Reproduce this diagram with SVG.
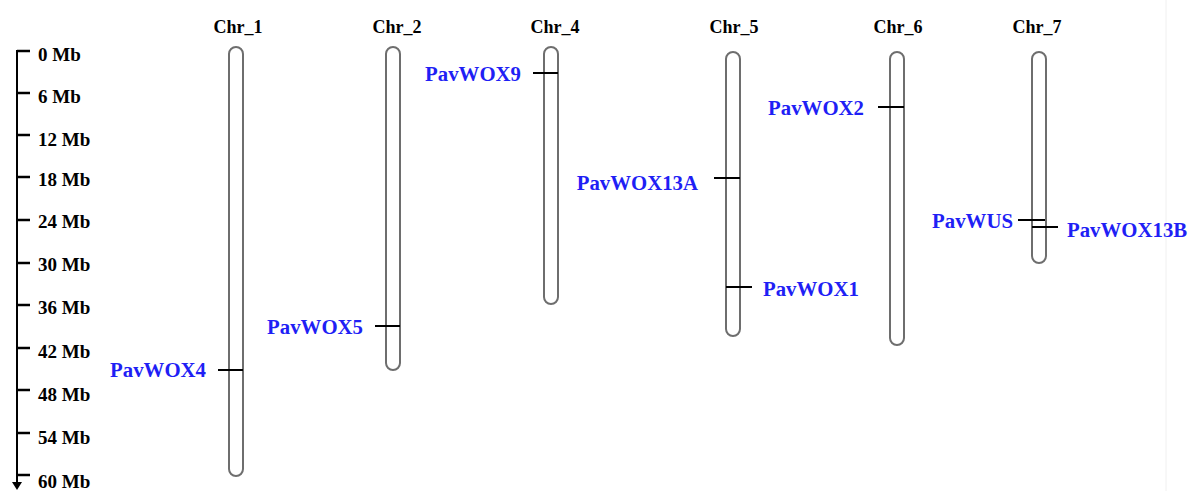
<svg xmlns="http://www.w3.org/2000/svg" width="1188" height="491" viewBox="0 0 1188 491">
<style>
.chr{fill:#fff;stroke:#6e6e6e;stroke-width:2}
.title{font-family:"Liberation Serif",serif;font-weight:bold;font-size:18px;fill:#000;text-anchor:middle}
.ax{font-family:"Liberation Serif",serif;font-weight:bold;font-size:19px;fill:#000}
.gene{font-family:"Liberation Serif",serif;font-weight:bold;font-size:20.8px;fill:#1f1ff5}
.mk{stroke:#000;stroke-width:2}
.tick{stroke:#000;stroke-width:2.5}
</style>
<rect width="1188" height="491" fill="#fff"/>
<line x1="1166" y1="0" x2="1166" y2="491" stroke="#f0f0f0" stroke-width="1"/>
<g id="axis">
<line x1="17" y1="50" x2="17" y2="484" stroke="#000" stroke-width="2"/>
<polygon points="12,482 22,482 17,490" fill="#000"/>
<line class="tick" x1="17" y1="51" x2="30" y2="51"/>
<line class="tick" x1="17" y1="93" x2="30" y2="93"/>
<line class="tick" x1="17" y1="135" x2="30" y2="135"/>
<line class="tick" x1="17" y1="177" x2="30" y2="177"/>
<line class="tick" x1="17" y1="220" x2="30" y2="220"/>
<line class="tick" x1="17" y1="263" x2="30" y2="263"/>
<line class="tick" x1="17" y1="305" x2="30" y2="305"/>
<line class="tick" x1="17" y1="348" x2="30" y2="348"/>
<line class="tick" x1="17" y1="390" x2="30" y2="390"/>
<line class="tick" x1="17" y1="433" x2="30" y2="433"/>
<line class="tick" x1="17" y1="475" x2="30" y2="475"/>
<text class="ax" x="38" y="61">0 Mb</text>
<text class="ax" x="38" y="103">6 Mb</text>
<text class="ax" x="38" y="146">12 Mb</text>
<text class="ax" x="38" y="186">18 Mb</text>
<text class="ax" x="38" y="228">24 Mb</text>
<text class="ax" x="38" y="271">30 Mb</text>
<text class="ax" x="38" y="314">36 Mb</text>
<text class="ax" x="38" y="358">42 Mb</text>
<text class="ax" x="38" y="401">48 Mb</text>
<text class="ax" x="38" y="444">54 Mb</text>
<text class="ax" x="38" y="488">60 Mb</text>
</g>
<g id="chr1">
<text class="title" x="238" y="33">Chr_1</text>
<rect class="chr" x="229" y="47" width="14" height="429" rx="7"/>
</g>
<g id="chr2">
<text class="title" x="397" y="33">Chr_2</text>
<rect class="chr" x="386" y="47" width="14" height="323" rx="7"/>
</g>
<g id="chr4">
<text class="title" x="555" y="33">Chr_4</text>
<rect class="chr" x="544" y="47" width="14" height="257" rx="7"/>
</g>
<g id="chr5">
<text class="title" x="734" y="33">Chr_5</text>
<rect class="chr" x="726" y="52" width="14" height="284" rx="7"/>
</g>
<g id="chr6">
<text class="title" x="898" y="33">Chr_6</text>
<rect class="chr" x="890" y="52" width="14" height="293" rx="7"/>
</g>
<g id="chr7">
<text class="title" x="1037" y="33">Chr_7</text>
<rect class="chr" x="1032" y="52" width="14" height="211" rx="7"/>
</g>
<g id="connectors">
<line class="mk" x1="218" y1="370" x2="243" y2="370"/>
<line class="mk" x1="375" y1="326" x2="400" y2="326"/>
<line class="mk" x1="533" y1="73" x2="558" y2="73"/>
<line class="mk" x1="714" y1="178" x2="740" y2="178"/>
<line class="mk" x1="726" y1="287" x2="752" y2="287"/>
<line class="mk" x1="878" y1="107" x2="904" y2="107"/>
<line class="mk" x1="1018" y1="220" x2="1045" y2="220"/>
<line class="mk" x1="1032" y1="227" x2="1058" y2="227"/>
</g>
<g id="gene-PavWOX4"><text class="gene" x="206" y="377" text-anchor="end">PavWOX4</text></g>
<g id="gene-PavWOX5"><text class="gene" x="363" y="334" text-anchor="end">PavWOX5</text></g>
<g id="gene-PavWOX9"><text class="gene" x="521" y="81" text-anchor="end">PavWOX9</text></g>
<g id="gene-PavWOX13A"><text class="gene" x="698" y="190" text-anchor="end">PavWOX13A</text></g>
<g id="gene-PavWOX1"><text class="gene" x="763" y="296">PavWOX1</text></g>
<g id="gene-PavWOX2"><text class="gene" x="864" y="115" text-anchor="end">PavWOX2</text></g>
<g id="gene-PavWUS"><text class="gene" x="1013" y="228" text-anchor="end">PavWUS</text></g>
<g id="gene-PavWOX13B"><text class="gene" x="1067" y="237">PavWOX13B</text></g>
</svg>
